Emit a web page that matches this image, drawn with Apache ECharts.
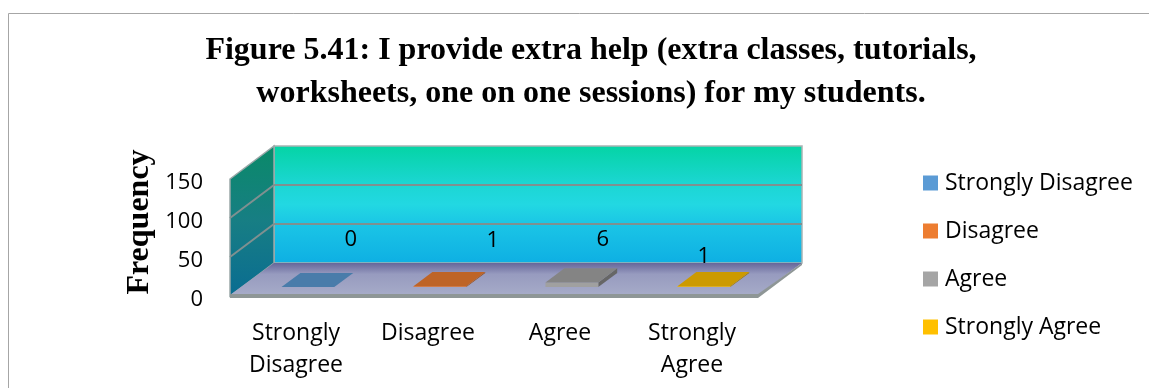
<!DOCTYPE html>
<html>
<head>
<meta charset="utf-8">
<title>Figure 5.41</title>
<script src="https://cdn.jsdelivr.net/npm/echarts@6/dist/echarts.min.js"></script>
<style>
  html, body { margin: 0; padding: 0; background: #ffffff; }
  #chart { width: 1149px; height: 388px; }
</style>
</head>
<body>
<div id="chart"></div>
<script>
// Survey responses
const categories = ['Strongly Disagree', 'Disagree', 'Agree', 'Strongly Agree'];
const axisLabels = ['Strongly\nDisagree', 'Disagree', 'Agree', 'Strongly\nAgree'];
const frequencies = [0, 1, 6, 1];
const seriesColors = ['#5b9bd5', '#ed7d31', '#a5a5a5', '#ffc000'];
const yMin = 0, yMax = 150, yStep = 50;

// 3D look: depth of the plot box and where the bars sit inside it
const DX = 44, DY = -33;
const F1 = 0.27, F2 = 0.70;
const BAR_RATIO = 0.4;
const labelNudge = [[24, -33], [34, -31], [12, -28], [-19, -15]];

const sans = '"Open Sans", "Noto Sans", sans-serif';
const serif = '"Liberation Serif", "DejaVu Serif", serif';

function shade(hex, k) {
  const n = parseInt(hex.slice(1), 16);
  const r = Math.round(((n >> 16) & 255) * k);
  const g = Math.round(((n >> 8) & 255) * k);
  const b = Math.round((n & 255) * k);
  return 'rgb(' + Math.min(r, 255) + ',' + Math.min(g, 255) + ',' + Math.min(b, 255) + ')';
}

// Back wall, side wall, floor and gridlines of the box
function renderWalls(params, api) {
  const cs = params.coordSys;
  const x0 = cs.x, x1 = cs.x + cs.width;
  const y0 = api.coord([0, yMin])[1];
  const yTop = api.coord([0, yMax])[1];
  const children = [];

  children.push({
    type: 'polygon',
    shape: { points: [[x0 + DX, yTop + DY], [x1 + DX, yTop + DY], [x1 + DX, y0 + DY], [x0 + DX, y0 + DY]] },
    style: {
      fill: new echarts.graphic.LinearGradient(0, 0, 0, 1, [
        { offset: 0, color: '#04d4a4' },
        { offset: 0.32, color: '#1bd6d2' },
        { offset: 0.5, color: '#22d8e2' },
        { offset: 0.68, color: '#1ac4e6' },
        { offset: 1, color: '#0eafe3' }
      ]),
      stroke: '#a9b4b4', lineWidth: 1.5
    }
  });

  children.push({
    type: 'polygon',
    shape: { points: [[x0, yTop], [x0 + DX, yTop + DY], [x0 + DX, y0 + DY], [x0, y0]] },
    style: {
      fill: new echarts.graphic.LinearGradient(0, 0, 0, 1, [
        { offset: 0, color: '#0a8a68' },
        { offset: 0.5, color: '#177e84' },
        { offset: 1, color: '#0a6c92' }
      ]),
      stroke: '#9aa8a8', lineWidth: 1.5
    }
  });

  for (let v = yMin + yStep; v < yMax; v += yStep) {
    const y = api.coord([0, v])[1];
    children.push({
      type: 'polyline',
      shape: { points: [[x0, y], [x0 + DX, y + DY], [x1 + DX, y + DY]] },
      style: { stroke: '#7f9090', lineWidth: 2, fill: null }
    });
  }

  // floor surface and its front edge
  children.push({
    type: 'polygon',
    shape: { points: [[x0, y0 - 1], [x1, y0 - 1], [x1 + DX, y0 + DY], [x0 + DX, y0 + DY]] },
    style: {
      fill: new echarts.graphic.LinearGradient(0, 0, 0, 1, [
        { offset: 0, color: '#66669a' },
        { offset: 0.35, color: '#979bbf' },
        { offset: 1, color: '#a6abc8' }
      ])
    }
  });
  children.push({
    type: 'polygon',
    shape: { points: [[x0, y0 - 2], [x1, y0 - 2], [x1 + DX, y0 + DY], [x1 + DX, y0 + DY + 2], [x1, y0 + 2], [x0, y0 + 2]] },
    style: { fill: '#8e9696' }
  });

  return { type: 'group', children: children };
}

// One flat 3D block per answer, standing on the floor
function renderBlock(params, api) {
  const i = api.value(0), v = api.value(1);
  const base = api.coord([i, yMin]);
  const top = api.coord([i, v]);
  const bw = api.size([1, 0])[0] * BAR_RATIO;
  const color = api.visual('color');
  const xl = base[0] - bw / 2 + F1 * DX;
  const xr = base[0] + bw / 2 + F1 * DX;
  const yb = base[1] + F1 * DY;
  const yt = top[1] + F1 * DY;
  const ddx = (F2 - F1) * DX, ddy = (F2 - F1) * DY;
  const children = [];

  if (yb - yt > 0.2) {
    children.push({
      type: 'polygon',
      shape: { points: [[xr, yt], [xr + ddx, yt + ddy], [xr + ddx, yb + ddy], [xr, yb]] },
      style: { fill: shade(color, 0.62) }
    });
    children.push({
      type: 'rect',
      shape: { x: xl, y: yt, width: bw, height: yb - yt },
      style: { fill: shade(color, 0.97) }
    });
  }
  children.push({
    type: 'polygon',
    shape: { points: [[xl, yt], [xr, yt], [xr + ddx, yt + ddy], [xl + ddx, yt + ddy]] },
    style: { fill: shade(color, 0.8) }
  });

  const nudge = labelNudge[i];
  children.push({
    type: 'text',
    x: (xl + xr) / 2 + ddx + nudge[0],
    y: yt + ddy + nudge[1],
    style: {
      text: String(v),
      font: '22px ' + sans,
      fill: '#000000',
      align: 'center',
      verticalAlign: 'middle'
    }
  });
  return { type: 'group', children: children };
}

const series = [{
  type: 'custom',
  name: 'box',
  renderItem: renderWalls,
  data: [[0, 0]],
  silent: true,
  clip: false,
  z: 1
}];
categories.forEach(function (name, k) {
  series.push({
    type: 'custom',
    name: name,
    renderItem: renderBlock,
    data: [[k, frequencies[k]]],
    itemStyle: { color: seriesColors[k] },
    clip: false,
    z: 5
  });
});

const chart = echarts.init(document.getElementById('chart'), null, { renderer: 'canvas' });
chart.setOption({
  animation: false,
  backgroundColor: '#ffffff',
  title: {
    text: 'Figure 5.41: I provide extra help (extra classes, tutorials,\nworksheets, one on one sessions) for my students.',
    left: 586,
    top: 24,
    textAlign: 'center',
    textStyle: {
      fontFamily: serif,
      fontWeight: 'bold',
      fontSize: 32,
      lineHeight: 43,
      color: '#000000'
    }
  },
  legend: {
    data: categories,
    orient: 'vertical',
    left: 923,
    top: 171,
    padding: 0,
    icon: 'rect',
    itemWidth: 15,
    itemHeight: 15,
    itemGap: 24,
    textStyle: { fontFamily: sans, fontSize: 23, color: '#000000', lineHeight: 24, padding: [0, 0, 0, 2] }
  },
  grid: { left: 230, right: 391, top: 179, bottom: 92, containLabel: false },
  xAxis: {
    type: 'category',
    data: axisLabels,
    axisLine: { show: false },
    axisTick: { show: false },
    axisLabel: {
      interval: 0,
      margin: 21,
      fontFamily: sans,
      fontSize: 23,
      lineHeight: 32,
      color: '#000000'
    }
  },
  yAxis: {
    type: 'value',
    min: yMin,
    max: yMax,
    interval: yStep,
    axisLine: { show: false },
    axisTick: { show: false },
    splitLine: { show: false },
    axisLabel: {
      margin: 27,
      verticalAlign: 'top',
      lineHeight: 7,
      fontFamily: sans,
      fontSize: 22,
      color: '#000000'
    }
  },
  graphic: [
    {
      type: 'rect',
      shape: { x: 8.5, y: 13.5, width: 1160, height: 400 },
      style: { fill: null, stroke: '#a6a6a6', lineWidth: 1 },
      silent: true
    },
    {
      type: 'text',
      x: 140,
      y: 222,
      rotation: Math.PI / 2,
      style: {
        text: 'Frequency',
        font: 'bold 32px ' + serif,
        fill: '#000000',
        align: 'center',
        verticalAlign: 'middle'
      }
    }
  ],
  series: series
});
</script>
</body>
</html>
